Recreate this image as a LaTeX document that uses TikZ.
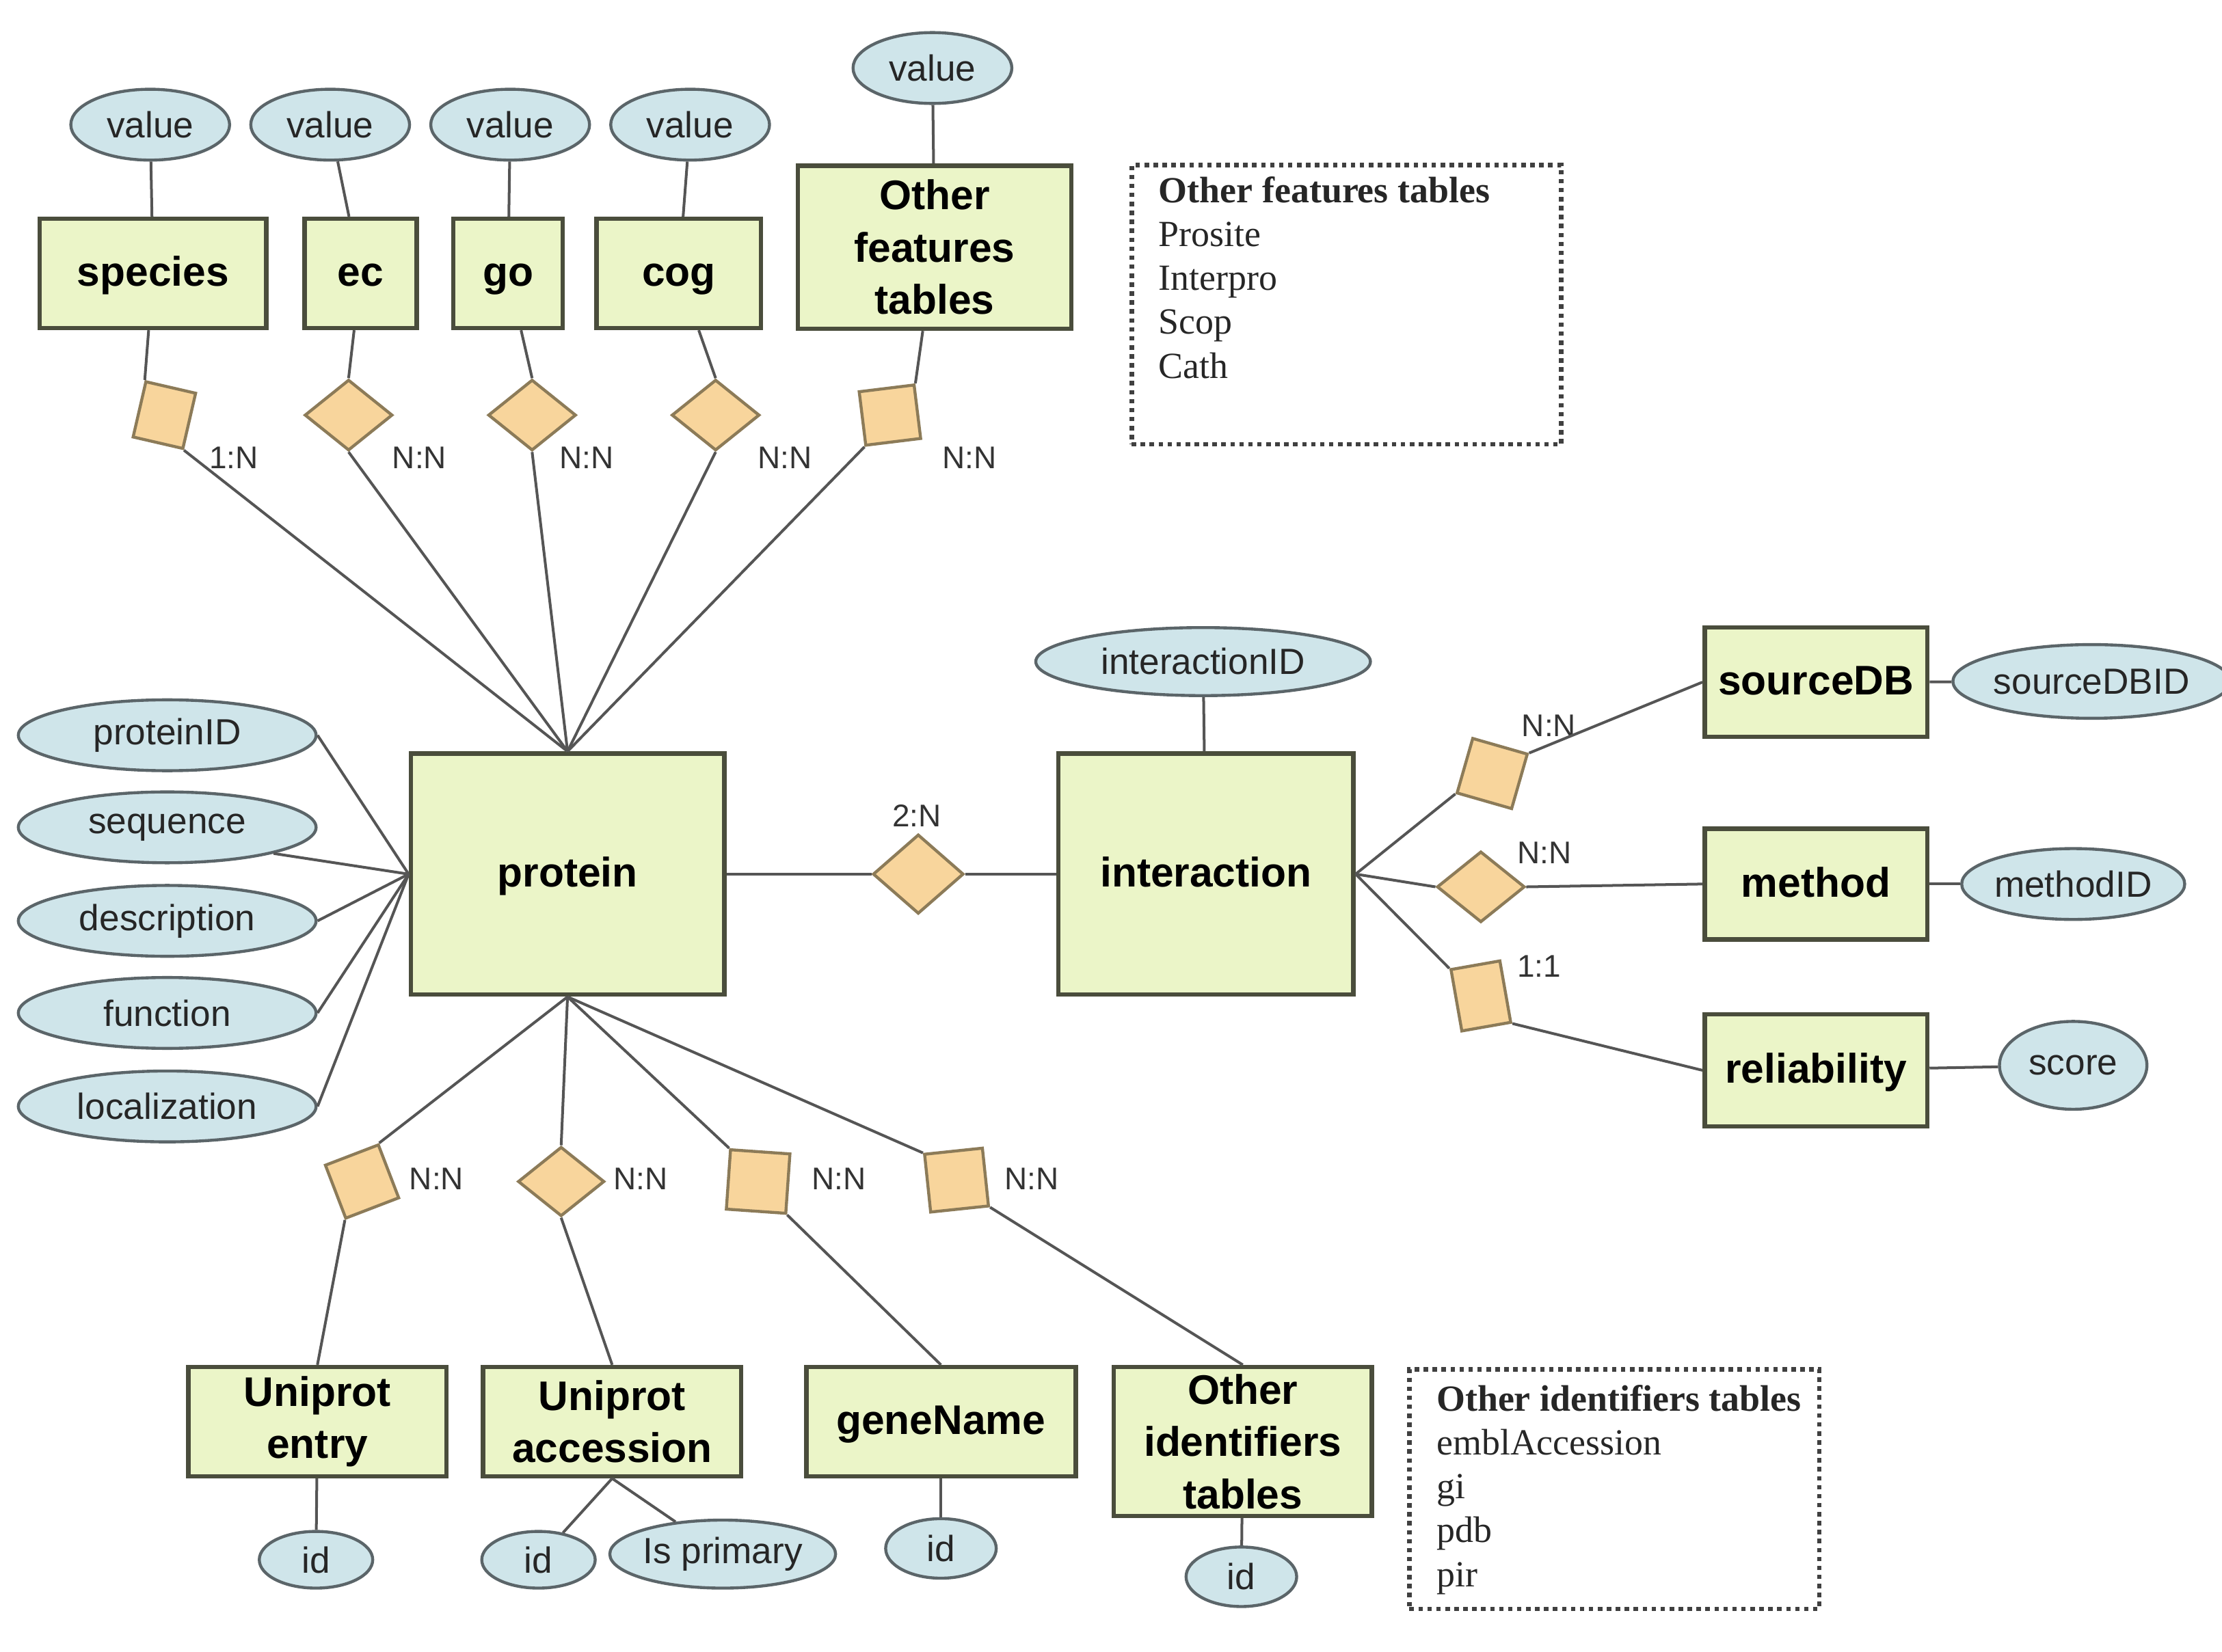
\documentclass[tikz,border=0pt]{standalone}
\usepackage{fontspec}
\setmainfont{Liberation Sans}
\newfontfamily\notefont{Liberation Serif}
\usetikzlibrary{positioning, shapes.geometric}
\definecolor{erBoxFill}{HTML}{EBF5C8}
\definecolor{erBoxLine}{HTML}{4A4D3C}
\definecolor{erAttrFill}{HTML}{CFE5EA}
\definecolor{erAttrLine}{HTML}{5B6569}
\definecolor{erRelFill}{HTML}{F8D59C}
\definecolor{erRelLine}{HTML}{8C7B58}
\definecolor{erLink}{HTML}{555555}

\begin{document}
\begin{tikzpicture}[
    x=0.01cm, y=-0.01cm,
    entity/.style={draw=erBoxLine, line width=0.9pt, fill=erBoxFill, inner sep=0pt, align=center,
                   font=\fontsize{8.3}{10.5}\selectfont\bfseries},
    oneline/.style={text height=0.72em, text depth=0.2em},
    attr/.style={ellipse, draw=erAttrLine, line width=0.6pt, fill=erAttrFill, inner sep=0pt,
                 minimum width=1.12cm, minimum height=0.5cm, font=\fontsize{7.3}{8}\selectfont, text=black!85},
    rel/.style={diamond, draw=erRelLine, line width=0.6pt, fill=erRelFill, inner sep=0pt,
                minimum width=0.62cm, minimum height=0.5cm},
    relsq/.style={rectangle, draw=erRelLine, line width=0.6pt, fill=erRelFill, inner sep=0pt,
                  minimum size=0.4cm},
    card/.style={font=\fontsize{6.3}{7}\selectfont, text=black!80, inner sep=0pt},
    link/.style={draw=erLink, line width=0.55pt},
    notebox/.style={draw=black!75, line width=0.9pt, dash pattern=on 0.9pt off 0.9pt, inner sep=0pt},
    notetext/.style={font=\notefont\fontsize{7.4}{8.8}\selectfont, text=black!85, align=left,
                     inner sep=0pt, anchor=north west}
]
\useasboundingbox (0,0) rectangle (1568,1166);

% ============================
% Top: feature tables
% ============================
\foreach \name/\x in {vsp/106, vec/233, vgo/360, vcog/487}
    \node[attr] (\name) at (\x, 88) {value};
\node[attr] (vfeat) at (658, 48) {value};

\node[entity, oneline, minimum width=1.60cm, minimum height=0.77cm] (species) at (108, 193) {species};
\node[entity, oneline, minimum width=0.79cm, minimum height=0.77cm] (ec) at (254.5, 193) {ec};
\node[entity, oneline, minimum width=0.77cm, minimum height=0.77cm] (go) at (358.5, 193) {go};
\node[entity, oneline, minimum width=1.16cm, minimum height=0.77cm] (cog) at (479, 193) {cog};
\node[entity, minimum width=1.93cm, minimum height=1.15cm] (feat) at (659.5, 174.5) {Other\\features\\tables};

% relations to protein
\node[relsq, minimum width=0.36cm, rotate=-13] (dsp) at (116, 293) {};
\node[rel] (dec) at (246, 293) {};
\node[rel] (dgo) at (375.5, 293) {};
\node[rel] (dcog) at (505, 293) {};
\node[relsq, minimum width=0.39cm, minimum height=0.38cm, rotate=7] (dfeat) at (628, 293) {};

\node[card] (csp) at (165, 323) {1:N};
\node[card] (cec) at (296, 323) {N:N};
\node[card] (cgo) at (414, 323) {N:N};
\node[card] (ccog) at (554, 323) {N:N};
\node[card] (cfeat) at (684, 323) {N:N};

% Features note
\node[notebox, anchor=north west, minimum width=3.03cm, minimum height=1.97cm] (fnote) at (797, 115) {};
\node[notetext, xshift=0.2cm, yshift=-0.09cm] (ftext) at (fnote.north west)
    {\textbf{Other features tables}\\Prosite\\Interpro\\Scop\\Cath};

% ============================
% Middle: protein and interaction
% ============================
\node[entity, oneline, minimum width=2.21cm, minimum height=1.70cm] (protein) at (400.5, 617) {protein};
\node[entity, oneline, minimum width=2.08cm, minimum height=1.70cm] (interaction) at (851, 617) {interaction};

\foreach \name/\y/\txt in {pid/519/proteinID, pseq/584/sequence, pdesc/650/description,
                           pfunc/715/function, ploc/781/localization}
    \node[attr, minimum width=2.10cm] (\name) at (118, \y) {\txt};

\node[rel, minimum width=0.64cm, minimum height=0.56cm] (dint) at (648, 617) {};
\node[card] (cint) at (647, 576) {2:N};
\node[attr, minimum width=2.36cm, minimum height=0.48cm] (iid) at (849, 467) {interactionID};

% Right: interaction details
\node[entity, oneline, minimum width=1.57cm, minimum height=0.77cm] (source) at (1281.5, 481.5) {sourceDB};
\node[entity, oneline, minimum width=1.57cm, minimum height=0.78cm] (method) at (1281.5, 624) {method};
\node[entity, oneline, minimum width=1.57cm, minimum height=0.79cm] (reliab) at (1281.5, 755.5) {reliability};

\node[attr, minimum width=1.50cm, minimum height=0.52cm] (sid) at (1476, 481) {sourceDBID};
\node[attr, minimum width=1.55cm, minimum height=0.50cm] (mid) at (1463, 624) {methodID};
\node[attr, minimum width=1.04cm, minimum height=0.62cm] (score) at (1463, 752) {score};

\node[relsq, rotate=-16] (dsrc) at (1053, 546) {};
\node[rel] (dmeth) at (1045, 626) {};
\node[relsq, minimum width=0.35cm, minimum height=0.44cm, rotate=10] (drel) at (1045, 703) {};

\node[card] (csrc) at (1093, 512) {N:N};
\node[card] (cmeth) at (1090, 602) {N:N};
\node[card] (crel) at (1086, 682) {1:1};

% ============================
% Bottom: identifier tables
% ============================
\node[relsq, rotate=21] (dentry) at (255.5, 834) {};
\node[rel, minimum width=0.61cm, minimum height=0.49cm] (dacc) at (396, 834) {};
\node[relsq, minimum size=0.42cm, rotate=-4] (dgene) at (535, 834) {};
\node[relsq, minimum size=0.41cm, rotate=6] (dother) at (675, 833) {};

\node[card] (centry) at (308, 832) {N:N};
\node[card] (cacc) at (452, 832) {N:N};
\node[card] (cgene) at (592, 832) {N:N};
\node[card] (cother) at (728, 832) {N:N};

\node[entity, minimum width=1.82cm, minimum height=0.77cm] (entry) at (224, 1003.5) {Uniprot\\entry};
\node[entity, minimum width=1.82cm, minimum height=0.77cm] (acc) at (432, 1003.5) {Uniprot\\accession};
\node[entity, oneline, minimum width=1.90cm, minimum height=0.77cm] (gene) at (664, 1003.5) {geneName};
\node[entity, minimum width=1.82cm, minimum height=1.05cm] (otherid) at (877, 1017.5) {Other\\identifiers\\tables};

\node[attr, minimum width=0.80cm, minimum height=0.40cm] (id1) at (223, 1101) {id};
\node[attr, minimum width=0.80cm, minimum height=0.40cm] (id2) at (380, 1101) {id};
\node[attr, minimum width=1.56cm, minimum height=0.48cm] (prim) at (510, 1097) {Is primary};
\node[attr, minimum width=0.78cm, minimum height=0.42cm] (id3) at (664, 1093) {id};
\node[attr, minimum width=0.78cm, minimum height=0.42cm] (id4) at (876, 1113) {id};

% Identifiers note
\node[notebox, anchor=north west, minimum width=2.89cm, minimum height=1.69cm] (inote) at (993, 965) {};
\node[notetext, xshift=0.2cm, yshift=-0.12cm] (itext) at (inote.north west)
    {\textbf{Other identifiers tables}\\emblAccession\\gi\\pdb\\pir};

% ============================
% Connectors
% ============================
\foreach \v/\b in {vsp/species, vec/ec, vgo/go, vcog/cog, vfeat/feat}
    \draw[link] (\v) -- (\b);

% feature relations (corner to corner, as drawn)
\draw[link] (species) -- (dsp.north west);
\draw[link] (dsp.south east) -- (protein.north);
\draw[link] (ec) -- (dec.north);
\draw[link] (dec.south) -- (protein.north);
\draw[link] (go) -- (dgo.north);
\draw[link] (dgo.south) -- (protein.north);
\draw[link] (cog) -- (dcog.north);
\draw[link] (dcog.south) -- (protein.north);
\draw[link] (feat) -- (dfeat.north east);
\draw[link] (dfeat.south west) -- (protein.north);

% protein attributes
\draw[link] (pid.east) -- (protein.west);
\draw[link] (pseq.south east) -- (protein.west);
\draw[link] (pdesc.east) -- (protein.west);
\draw[link] (pfunc.east) -- (protein.west);
\draw[link] (ploc.east) -- (protein.west);

\draw[link] (protein.east) -- (dint.west);
\draw[link] (dint.east) -- (interaction.west);
\draw[link] (iid) -- (interaction);

% interaction details
\draw[link] (interaction.east) -- (dsrc.south west);
\draw[link] (dsrc.north east) -- (source.west);
\draw[link] (interaction.east) -- (dmeth.west);
\draw[link] (dmeth.east) -- (method.west);
\draw[link] (interaction.east) -- (drel.north west);
\draw[link] (drel.south east) -- (reliab.west);
\foreach \b/\a in {source/sid, method/mid, reliab/score}
    \draw[link] (\b) -- (\a);

% identifier relations
\draw[link] (protein.south) -- (dentry.north east);
\draw[link] (dentry.south west) -- (entry.north);
\draw[link] (protein.south) -- (dacc.north);
\draw[link] (dacc.south) -- (acc.north);
\draw[link] (protein.south) -- (dgene.north west);
\draw[link] (dgene.south east) -- (gene.north);
\draw[link] (protein.south) -- (dother.north west);
\draw[link] (dother.south east) -- (otherid.north);

\draw[link] (entry) -- (id1);
\draw[link] (acc.south) -- (id2);
\draw[link] (acc.south) -- (prim);
\draw[link] (gene) -- (id3);
\draw[link] (otherid) -- (id4);

\end{tikzpicture}
\end{document}
